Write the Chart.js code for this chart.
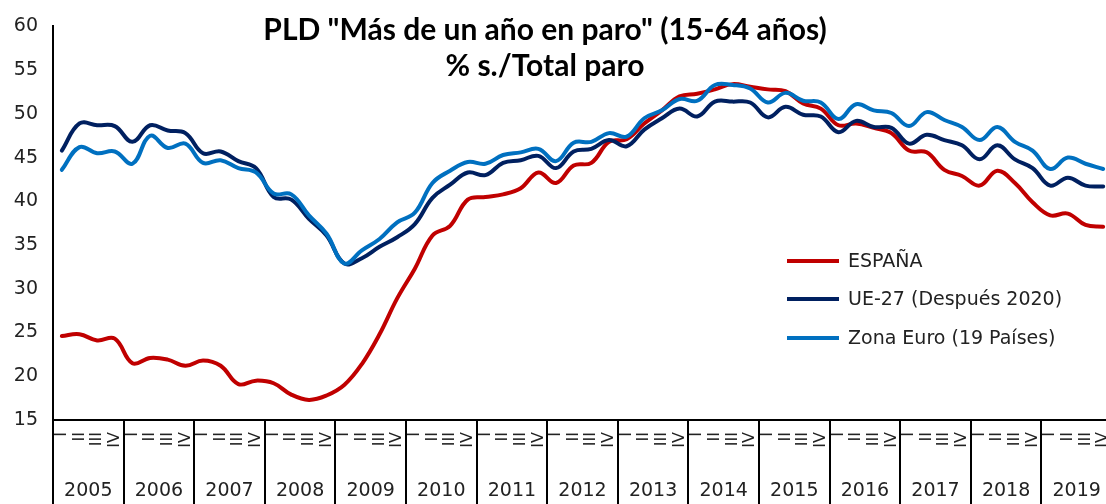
<!DOCTYPE html>
<html>
<head>
<meta charset="utf-8">
<script src="https://cdn.jsdelivr.net/npm/chart.js@4.4.1/dist/chart.umd.min.js"></script>
<style>
    html, body { margin: 0; padding: 0; background: #fff; overflow: hidden; }
    #wrap { width: 1112px; height: 504px; }
</style>
</head>
<body>
<div id="wrap"><canvas id="myChart" width="1112" height="504"></canvas></div>
<script>
// categories
const years = ['2005', '2006', '2007', '2008', '2009', '2010', '2011', '2012',
    '2013', '2014', '2015', '2016', '2017', '2018', '2019'];
const quarters = ['I', 'II', 'III', 'IV'];
const yTicks = [15, 20, 25, 30, 35, 40, 45, 50, 55, 60];

// series (% of unemployed, quarterly)
const espana = [24.6, 24.8, 24.1, 24.3, 21.5, 22.1, 21.9, 21.2, 21.8, 21.2, 19.1, 19.5,
    19.2, 17.9, 17.3, 17.8, 19.0, 21.4, 24.8, 28.9, 32.3, 36.1, 37.2, 40.2,
    40.5, 40.8, 41.5, 43.3, 42.1, 44.1, 44.4, 46.8, 47.1, 48.9, 50.4, 52.0,
    52.3, 52.8, 53.4, 53.1, 52.8, 52.6, 51.2, 50.6, 48.7, 48.9, 48.4, 47.8,
    45.8, 45.6, 43.6, 42.9, 41.8, 43.5, 42.1, 39.9, 38.4, 38.6, 37.3, 37.1];
const ue27 = [45.8, 48.9, 48.7, 48.6, 46.8, 48.7, 48.1, 47.8, 45.5, 45.7, 44.6, 43.8,
    40.5, 40.2, 38.0, 36.1, 32.9, 33.5, 34.8, 35.9, 37.4, 40.4, 41.9, 43.3,
    43.0, 44.4, 44.7, 45.2, 43.8, 45.7, 46.0, 47.0, 46.3, 48.2, 49.5, 50.6,
    49.7, 51.4, 51.4, 51.3, 49.6, 50.8, 49.9, 49.7, 47.9, 49.2, 48.5, 48.4,
    46.6, 47.6, 47.0, 46.4, 44.8, 46.4, 44.8, 43.8, 41.8, 42.7, 41.8, 41.7];
const zonaEuro = [43.6, 46.2, 45.5, 45.7, 44.3, 47.5, 46.1, 46.6, 44.4, 44.7, 43.8, 43.3,
    40.9, 40.8, 38.4, 36.3, 32.9, 34.4, 35.7, 37.6, 38.7, 42.1, 43.5, 44.5,
    44.3, 45.3, 45.6, 46.0, 44.6, 46.7, 46.8, 47.8, 47.4, 49.5, 50.4, 51.7,
    51.5, 53.3, 53.3, 52.9, 51.3, 52.4, 51.5, 51.3, 49.4, 51.1, 50.4, 50.1,
    48.6, 50.2, 49.3, 48.5, 47.0, 48.5, 46.8, 45.8, 43.7, 45.0, 44.3, 43.7];

const titleLines = ['PLD "Más de un año en paro" (15-64 años)', '% s./Total paro'];
const seriesNames = ['ESPAÑA', 'UE-27 (Después 2020)', 'Zona Euro (19 Países)'];
const seriesColors = ['#C00000', '#002060', '#0070C0'];

const labels = [];
years.forEach(y => quarters.forEach(q => labels.push(q)));

const textFont = '"DejaVu Sans", sans-serif';

// title, legend and year separators
const extras = {
    id: 'extras',
    afterDraw(chart) {
        const ctx = chart.ctx;
        const x = chart.scales.x;
        const area = chart.chartArea;
        const half = (x.getPixelForValue(1) - x.getPixelForValue(0)) / 2;
        ctx.save();

        ctx.strokeStyle = '#000';
        ctx.lineWidth = 2;
        for (let k = 0; k <= years.length; k++) {
            const px = Math.round(x.getPixelForValue(k * 4) - half);
            ctx.beginPath();
            ctx.moveTo(px, area.bottom);
            ctx.lineTo(px, chart.height);
            ctx.stroke();
        }

        ctx.fillStyle = '#000';
        ctx.font = 'bold 30px Lato, sans-serif';
        ctx.textAlign = 'center';
        ctx.textBaseline = 'middle';
        ctx.fillText(titleLines[0], 545, 30);
        ctx.fillText(titleLines[1], 545, 66);

        ctx.font = '19px ' + textFont;
        ctx.textAlign = 'left';
        const rows = [261, 299, 338];
        seriesNames.forEach((name, i) => {
            ctx.strokeStyle = seriesColors[i];
            ctx.lineWidth = 4;
            ctx.beginPath();
            ctx.moveTo(787, rows[i]);
            ctx.lineTo(839, rows[i]);
            ctx.stroke();
            ctx.fillStyle = '#222';
            ctx.fillText(name, 848, rows[i] + 1);
        });
        ctx.restore();
    }
};

const ctx = document.getElementById('myChart').getContext('2d');

function series(label, data, color, order) {
    return {
        label: label,
        data: data,
        borderColor: color,
        backgroundColor: color,
        borderWidth: 4,
        pointRadius: 0,
        tension: 0.4,
        fill: false,
        order: order,
        borderCapStyle: 'round',
        borderJoinStyle: 'round'
    };
}

function noSidePadding(scale) {
    scale.paddingLeft = 0;
    scale.paddingRight = 0;
}

const chart = new Chart(ctx, {
    type: 'line',
    data: {
        labels: labels,
        datasets: [
            series(seriesNames[0], espana, seriesColors[0], 3),
            series(seriesNames[1], ue27, seriesColors[1], 2),
            series(seriesNames[2], zonaEuro, seriesColors[2], 1)
        ]
    },
    options: {
        responsive: false,
        animation: false,
        layout: { padding: { top: 22, left: 0, right: 0, bottom: 0 } },
        plugins: {
            legend: { display: false },
            title: { display: false },
            tooltip: { enabled: false }
        },
        scales: {
            x: {
                type: 'category',
                position: 'bottom',
                offset: true,
                grid: { display: false, drawTicks: false },
                border: { display: true, color: '#000', width: 2 },
                ticks: {
                    autoSkip: false,
                    maxRotation: 90,
                    minRotation: 90,
                    padding: 12,
                    color: '#222',
                    font: { family: textFont, size: 16 }
                },
                afterFit(scale) { scale.height = 40; noSidePadding(scale); }
            },
            x2: {
                type: 'category',
                position: 'bottom',
                labels: years,
                offset: true,
                grid: { display: false, drawTicks: false },
                border: { display: false },
                ticks: {
                    autoSkip: false,
                    maxRotation: 0,
                    padding: 20,
                    color: '#222',
                    font: { family: textFont, size: 19 }
                },
                afterFit(scale) { scale.height = 44; noSidePadding(scale); }
            },
            y: {
                min: yTicks[0],
                max: yTicks[yTicks.length - 1],
                grid: { display: false, drawTicks: false },
                border: { display: true, color: '#000', width: 2 },
                afterBuildTicks(scale) { scale.ticks = yTicks.map(v => ({ value: v })); },
                ticks: {
                    padding: 15,
                    color: '#222',
                    font: { family: textFont, size: 19 }
                },
                afterFit(scale) { scale.width = 53; }
            }
        }
    },
    plugins: [extras]
});
</script>
</body>
</html>
